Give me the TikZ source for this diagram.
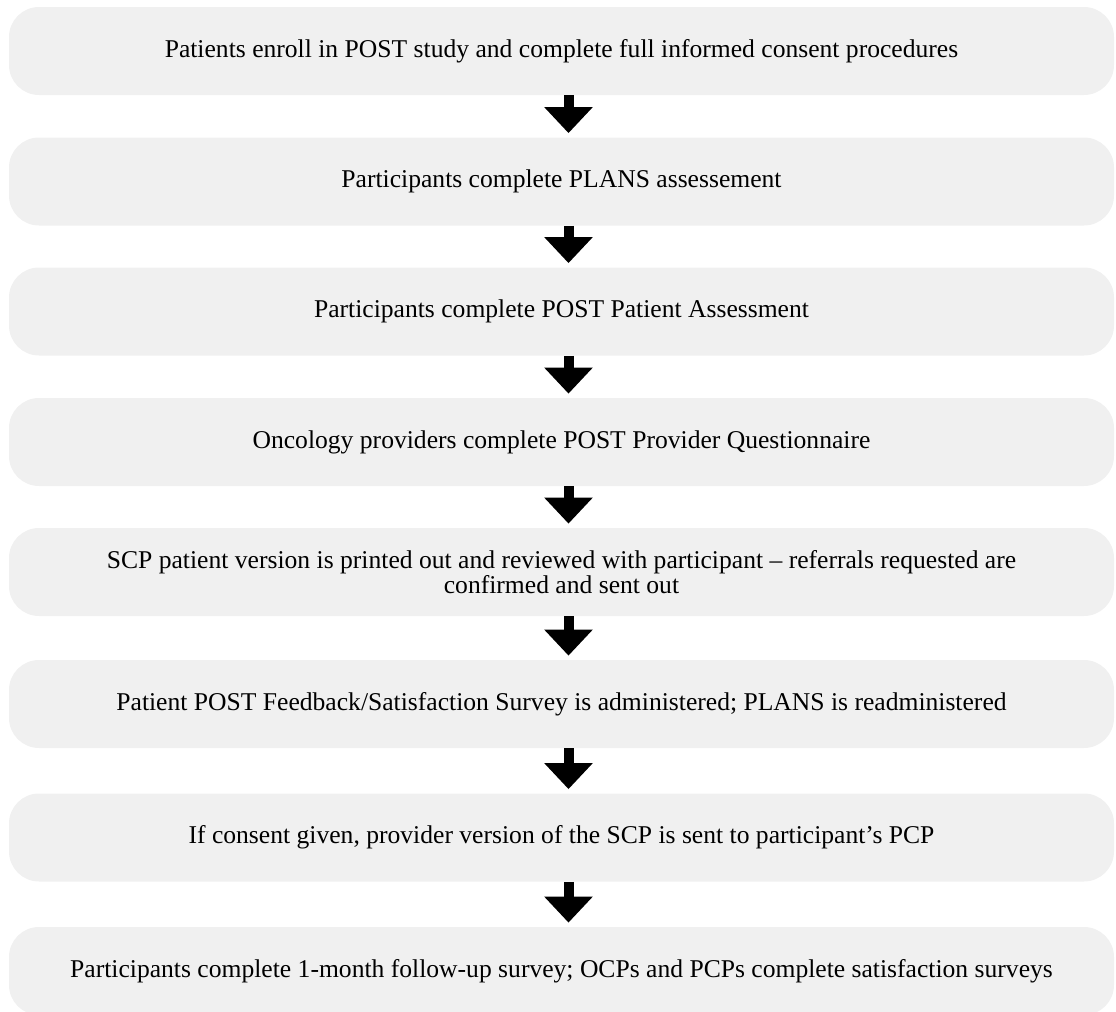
\documentclass[tikz,border=0pt]{standalone}
\usepackage{fontspec}
\setmainfont{Liberation Serif}
\usetikzlibrary{positioning,arrows.meta}
\definecolor{boxgray}{HTML}{F0F0F0}

\begin{document}
\begin{tikzpicture}[x=0.5pt,y=-0.5pt,
  stage/.style={fill=boxgray,rounded corners=15pt,minimum width=552.5pt,minimum height=44pt,
    inner sep=0pt,align=center,font=\fontsize{12.8}{11.5}\selectfont},
  flow/.style={line width=5pt,shorten >=2pt,-{Triangle[width=23.5pt,length=13pt]}}]

%Page size
\useasboundingbox (0,0) rectangle (1116,1012);

%Steps of the study
\node[stage] (s1) at (561.5,51) {Patients enroll in POST study and complete full informed consent procedures};
\node[stage] (s2) at (561.5,181.5) {Participants complete PLANS assessement};
\node[stage] (s3) at (561.5,311.5) {Participants complete POST Patient Assessment};
\node[stage] (s4) at (561.5,442) {Oncology providers complete POST Provider Questionnaire};
\node[stage] (s5) at (561.5,572) {SCP patient version is printed out and reviewed with participant -- referrals requested are\\ confirmed and sent out};
\node[stage] (s6) at (561.5,704) {Patient POST Feedback/Satisfaction Survey is administered; PLANS is readministered};
\node[stage] (s7) at (561.5,837.5) {If consent given, provider version of the SCP is sent to participant's PCP};
\node[stage] (s8) at (561.5,971) {Participants complete 1-month follow-up survey; OCPs and PCPs complete satisfaction surveys};

%Arrows between steps
\draw[flow] ([xshift=3.5pt]s1.south) -- ([xshift=3.5pt]s2.north);
\draw[flow] ([xshift=3.5pt]s2.south) -- ([xshift=3.5pt]s3.north);
\draw[flow] ([xshift=3.5pt]s3.south) -- ([xshift=3.5pt]s4.north);
\draw[flow] ([xshift=3.5pt]s4.south) -- ([xshift=3.5pt]s5.north);
\draw[flow] ([xshift=3.5pt]s5.south) -- ([xshift=3.5pt]s6.north);
\draw[flow] ([xshift=3.5pt]s6.south) -- ([xshift=3.5pt]s7.north);
\draw[flow] ([xshift=3.5pt]s7.south) -- ([xshift=3.5pt]s8.north);
\end{tikzpicture}
\end{document}
